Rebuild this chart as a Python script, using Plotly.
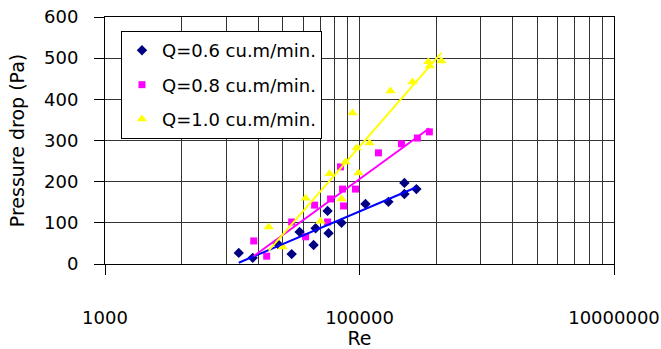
import numpy as np
import plotly.graph_objects as go

# ---- data ----
re_q06 = [11250, 14480, 22750, 29300, 33830, 43570, 45180, 56110, 57140, 72270,
          111400, 168800, 225400, 225400, 280000]
dp_q06 = [27, 15, 49, 24, 78, 46, 87, 129, 75, 100, 146, 151, 197, 170, 182]

re_q08 = [14750, 18650, 29300, 37700, 44370, 56110, 59260, 70960, 73570, 74940,
          93000, 140900, 213400, 285100, 354000]
dp_q08 = [56, 19, 102, 66, 143, 102, 158, 236, 182, 141, 182, 270, 292, 306, 321]

re_q10 = [19330, 24890, 37700, 49430, 58170, 72270, 77680, 88150, 94700, 98240,
          119800, 175100, 260500, 347700, 356000, 439700]
dp_q10 = [90, 41, 160, 104, 219, 158, 248, 367, 282, 221, 294, 420, 442, 491, 481, 493]

series_names = ["Q=0.6 cu.m/min.", "Q=0.8 cu.m/min.", "Q=1.0 cu.m/min."]
x_tick_vals = [1000, 100000, 10000000]
x_tick_text = ["1000", "100000", "10000000"]
y_tick_vals = [0, 100, 200, 300, 400, 500, 600]
grid_multipliers = [4, 9, 16, 25, 36, 49, 64, 81, 100]
grid_bases = [1000, 100000]

FONT = "DejaVu Sans, sans-serif"
GRID = "#333333"

fig = go.Figure()

styles = [
    dict(marker=dict(symbol="diamond", size=8, color="#000080"), line="#0000FF"),
    dict(marker=dict(symbol="square", size=7, color="#FF00FF"), line="#FF00FF"),
    dict(marker=dict(symbol="triangle-up", size=9, color="#FFFF00"), line="#FFFF00"),
]
data = [(re_q06, dp_q06), (re_q08, dp_q08), (re_q10, dp_q10)]

for i, ((xs, ys), name, st) in enumerate(zip(data, series_names, styles)):
    fig.add_trace(go.Scatter(x=xs, y=ys, mode="markers", name=name,
                             marker=st["marker"], legendgroup=f"g{i}"))
for i, ((xs, ys), st) in enumerate(zip(data, styles)):
    lx = np.log10(np.array(xs, dtype=float))
    a, b = np.polyfit(lx, np.array(ys, dtype=float), 1)
    xt = np.array([min(xs), max(xs)], dtype=float)
    yt = a * np.log10(xt) + b
    fig.add_trace(go.Scatter(x=xt, y=yt, mode="lines", showlegend=False,
                             line=dict(color=st["line"], width=2),
                             hoverinfo="skip", legendgroup=f"g{i}"))

minor_vals = [b * m for b in grid_bases for m in grid_multipliers]

fig.update_layout(
    width=661, height=349,
    margin=dict(l=105, r=47, t=17, b=85),
    paper_bgcolor="white", plot_bgcolor="white",
    font=dict(family=FONT, size=18, color="black"),
    showlegend=True,
    legend=dict(x=0.0314, y=0.943, xanchor="left", yanchor="top",
                bgcolor="white", bordercolor="black", borderwidth=1,
                font=dict(size=18, family=FONT), tracegroupgap=8),
    xaxis=dict(type="log", range=[3, 7], tickvals=x_tick_vals, ticktext=x_tick_text,
               ticks="outside", ticklen=10, tickcolor="black", tickwidth=1,
               showline=True, linecolor="black", linewidth=1, mirror=True,
               showgrid=True, gridcolor=GRID, gridwidth=1,
               minor=dict(tickvals=minor_vals, showgrid=True, gridcolor=GRID,
                          gridwidth=1, ticks=""),
               ticklabelstandoff=27,
               title=dict(text="Re", standoff=12, font=dict(size=19)),
               zeroline=False, automargin=False),
    yaxis=dict(range=[0, 600], tickvals=y_tick_vals,
               ticks="outside", ticklen=10, tickcolor="black", tickwidth=1,
               showline=True, linecolor="black", linewidth=1, mirror=True,
               showgrid=True, gridcolor=GRID, gridwidth=1,
               ticklabelstandoff=12,
               title=dict(text="Pressure drop (Pa)", standoff=14, font=dict(size=19)),
               zeroline=False, automargin=False),
)

fig.write_html("out.html", config={"displayModeBar": False},
               post_script="document.body.style.margin='0px';")
